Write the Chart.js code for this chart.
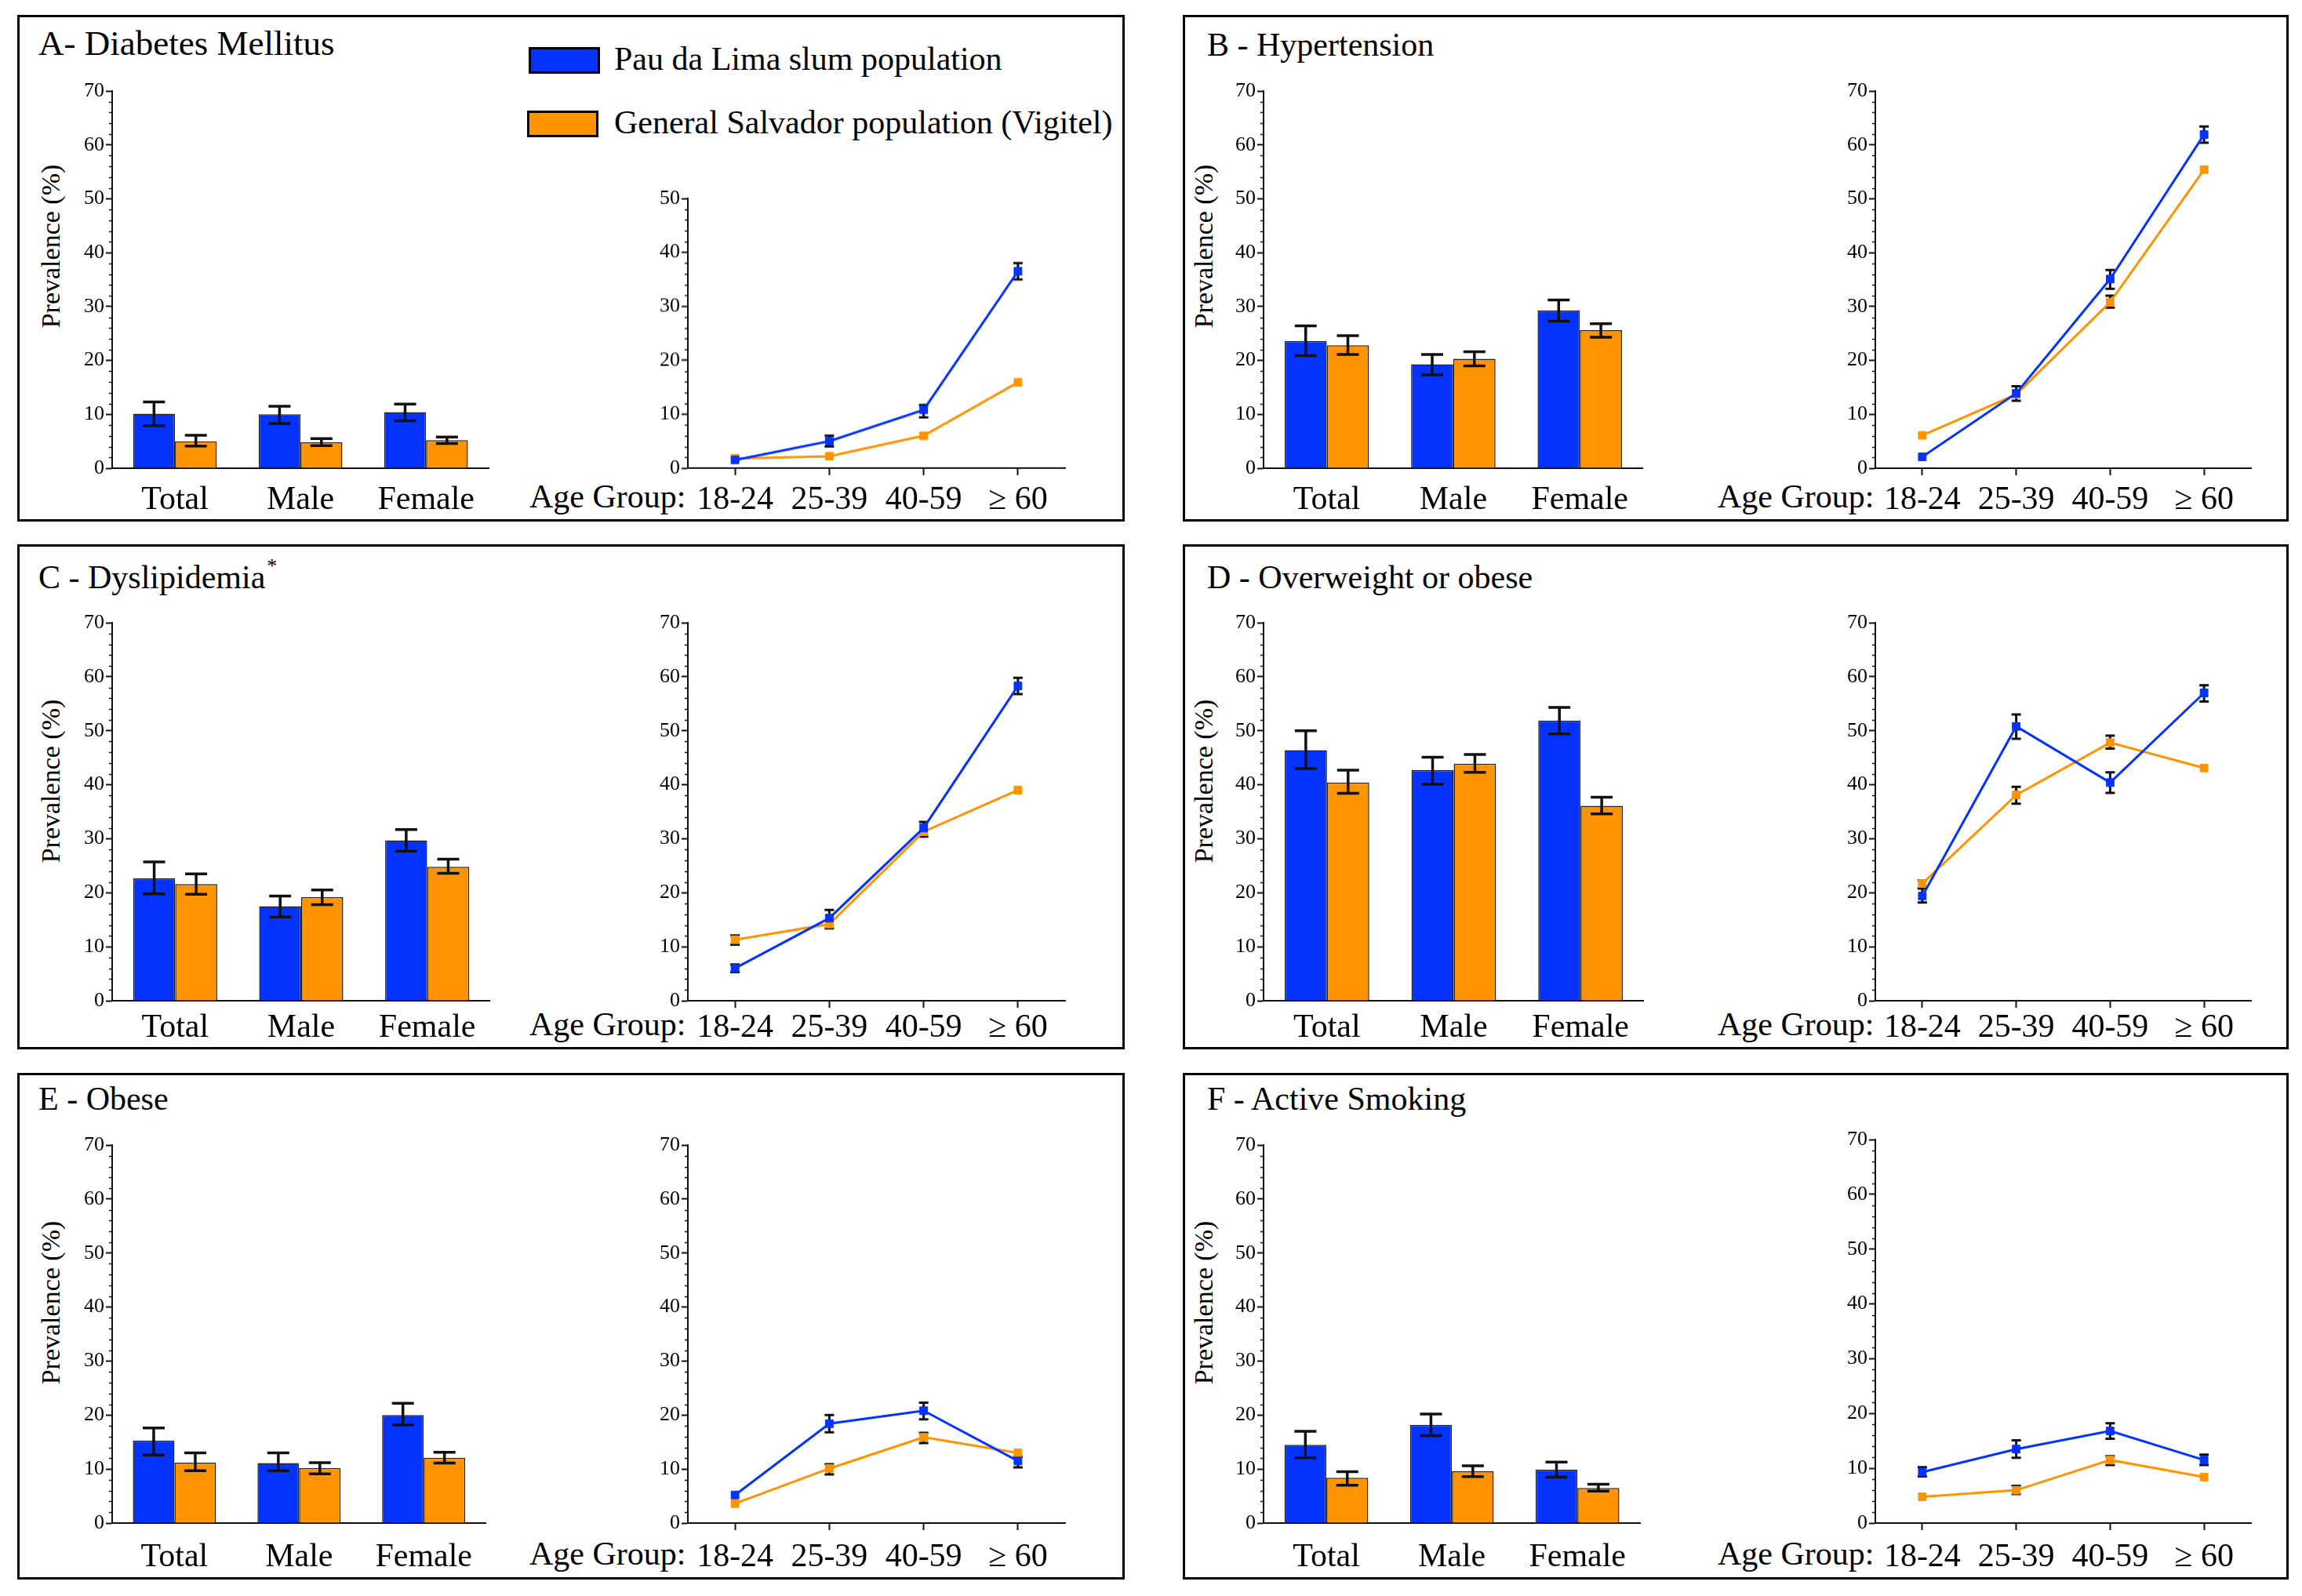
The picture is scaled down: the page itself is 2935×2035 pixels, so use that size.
<!DOCTYPE html>
<html>
<head>
<meta charset="utf-8">
<script src="https://cdn.jsdelivr.net/npm/chart.js@4.4.3/dist/chart.umd.min.js"></script>
<style>
html, body { margin: 0; padding: 0; background: #fff; }
#page { position: relative; width: 2935px; height: 2035px; overflow: hidden;
        font-family: "Liberation Serif", "Times New Roman", serif; color: #000; }
.frame { position: absolute; border: 3px solid #000; box-sizing: border-box; }
.txt { position: absolute; white-space: nowrap; font-size: 42px; line-height: 42px; }
.ytitle { position: absolute; white-space: nowrap; font-size: 34px; line-height: 34px;
          transform: translate(-50%, -50%) rotate(-90deg); }
.swatch { position: absolute; border: 3px solid #000; box-sizing: border-box; }
canvas { position: absolute; }
</style>
</head>
<body>
<div id="page"></div>
<script>
// ---- data ----
const sexGroups = ['Total', 'Male', 'Female'];
const ageGroups = ['18-24', '25-39', '40-59', '≥ 60'];
const seriesNames = ['Pau da Lima slum population', 'General Salvador population (Vigitel)'];

// A - Diabetes Mellitus
const dmSexSlum = [10.1, 10.0, 10.4];
const dmSexSlumCI = [[7.9, 12.3], [8.3, 11.5], [8.8, 11.9]];
const dmSexCity = [5.0, 4.8, 5.2];
const dmSexCityCI = [[4.1, 6.1], [4.2, 5.5], [4.6, 5.8]];
const dmAgeSlum = [1.5, 5.0, 10.8, 36.5];
const dmAgeSlumCI = [null, [4.0, 6.0], [9.4, 11.7], [35.0, 38.0]];
const dmAgeCity = [1.8, 2.2, 6.0, 15.9];
const dmAgeCityCI = [null, null, null, null];

// B - Hypertension
const htnSexSlum = [23.6, 19.3, 29.3];
const htnSexSlumCI = [[20.9, 26.4], [17.3, 21.1], [27.3, 31.2]];
const htnSexCity = [22.8, 20.3, 25.6];
const htnSexCityCI = [[21.1, 24.6], [19.0, 21.6], [24.3, 26.8]];
const htnAgeSlum = [2.1, 13.9, 35.1, 61.9];
const htnAgeSlumCI = [null, [12.5, 15.2], [33.3, 36.8], [60.4, 63.4]];
const htnAgeCity = [6.1, 13.7, 30.8, 55.4];
const htnAgeCityCI = [null, null, [29.8, 32.0], null];

// C - Dyslipidemia
const dlpSexSlum = [22.7, 17.5, 29.7];
const dlpSexSlumCI = [[19.8, 25.7], [15.5, 19.4], [27.7, 31.7]];
const dlpSexCity = [21.6, 19.2, 24.8];
const dlpSexCityCI = [[19.7, 23.5], [17.8, 20.5], [23.6, 26.2]];
const dlpAgeSlum = [6.0, 15.3, 32.0, 58.3];
const dlpAgeSlumCI = [[5.3, 6.7], [13.4, 16.8], [30.4, 33.1], [56.8, 59.8]];
const dlpAgeCity = [11.3, 14.2, 31.3, 39.0];
const dlpAgeCityCI = [[10.4, 12.1], null, null, null];

// D - Overweight or obese
const owSexSlum = [46.4, 42.7, 51.9];
const owSexSlumCI = [[43.0, 50.0], [40.1, 45.1], [49.4, 54.3]];
const owSexCity = [40.4, 43.9, 36.1];
const owSexCityCI = [[38.4, 42.7], [42.3, 45.6], [34.6, 37.7]];
const owAgeSlum = [19.4, 50.8, 40.4, 57.0];
const owAgeSlumCI = [[18.2, 20.8], [48.5, 53.0], [38.5, 42.3], [55.4, 58.4]];
const owAgeCity = [21.7, 38.1, 47.8, 43.1];
const owAgeCityCI = [[20.8, 22.3], [36.5, 39.6], [46.7, 49.1], null];

// E - Obese
const obSexSlum = [15.3, 11.1, 20.0];
const obSexSlumCI = [[12.6, 17.6], [9.7, 13.0], [18.2, 22.2]];
const obSexCity = [11.2, 10.2, 12.1];
const obSexCityCI = [[9.7, 13.0], [9.1, 11.2], [11.1, 13.1]];
const obAgeSlum = [5.2, 18.4, 20.8, 11.5];
const obAgeSlumCI = [null, [16.8, 20.0], [19.2, 22.3], [10.3, 12.3]];
const obAgeCity = [3.6, 10.1, 15.9, 13.0];
const obAgeCityCI = [null, [9.0, 10.9], [14.8, 16.7], null];

// F - Active Smoking
const smSexSlum = [14.5, 18.2, 9.9];
const smSexSlumCI = [[12.1, 17.0], [16.2, 20.2], [8.5, 11.3]];
const smSexCity = [8.4, 9.6, 6.5];
const smSexCityCI = [[7.0, 9.5], [8.6, 10.6], [5.9, 7.2]];
const smAgeSlum = [9.3, 13.5, 16.8, 11.5];
const smAgeSlumCI = [[8.5, 10.2], [11.9, 15.1], [15.4, 18.2], [10.6, 12.5]];
const smAgeCity = [4.8, 6.0, 11.5, 8.4];
const smAgeCityCI = [null, [5.3, 6.8], [10.6, 12.2], null];

// ---- layout ----
const BLUE = '#0433ff';
const ORANGE = '#ff9300';
const INK = '#111';
const FONT = "'Liberation Serif', 'Times New Roman', serif";

const COLS = [
    { frameX: 22, frameW: 1412, barAxis: 143, barEnd: 625, lineAxis: 877, lineEnd: 1366, ageX: 675, titleX: 49, yTitleX: 65 },
    { frameX: 1508, frameW: 1410, barAxis: 1611, barEnd: 2096, lineAxis: 2391, lineEnd: 2878, ageX: 2190, titleX: 1539, yTitleX: 1535 }
];
const ROWS = [
    { frameY: 19, frameH: 646, top: 116, zero: 597, labelBase: 647, titleBase: 71, yTitleY: 314 },
    { frameY: 694, frameH: 644, top: 794, zero: 1276, labelBase: 1320, titleBase: 750, yTitleY: 996 },
    { frameY: 1368, frameH: 646, top: 1460, zero: 1942, labelBase: 1995, titleBase: 1415, yTitleY: 1661 }
];

const panels = [
    { title: 'A- Diabetes Mellitus', titleSize: 45, col: 0, row: 0, lineMax: 50,
      sex: [dmSexSlum, dmSexSlumCI, dmSexCity, dmSexCityCI], age: [dmAgeSlum, dmAgeSlumCI, dmAgeCity, dmAgeCityCI] },
    { title: 'B - Hypertension', col: 1, row: 0, lineMax: 70,
      sex: [htnSexSlum, htnSexSlumCI, htnSexCity, htnSexCityCI], age: [htnAgeSlum, htnAgeSlumCI, htnAgeCity, htnAgeCityCI] },
    { title: 'C - Dyslipidemia', star: true, col: 0, row: 1, lineMax: 70,
      sex: [dlpSexSlum, dlpSexSlumCI, dlpSexCity, dlpSexCityCI], age: [dlpAgeSlum, dlpAgeSlumCI, dlpAgeCity, dlpAgeCityCI] },
    { title: 'D - Overweight or obese', col: 1, row: 1, lineMax: 70,
      sex: [owSexSlum, owSexSlumCI, owSexCity, owSexCityCI], age: [owAgeSlum, owAgeSlumCI, owAgeCity, owAgeCityCI] },
    { title: 'E - Obese', col: 0, row: 2, lineMax: 70,
      sex: [obSexSlum, obSexSlumCI, obSexCity, obSexCityCI], age: [obAgeSlum, obAgeSlumCI, obAgeCity, obAgeCityCI] },
    { title: 'F - Active Smoking', col: 1, row: 2, lineMax: 70, lineTop: 1453,
      sex: [smSexSlum, smSexSlumCI, smSexCity, smSexCityCI], age: [smAgeSlum, smAgeSlumCI, smAgeCity, smAgeCityCI] }
];

const PAD_TOP = 24;   // room above the chart area for the top tick label
const YW = 70;        // fixed y-axis box width
const XH = 90;        // fixed x-axis box height

Chart.defaults.font.family = FONT;
Chart.defaults.color = '#000';

// error bars drawn through the y scale
function drawErrorBars(chart, opts) {
    const ctx = chart.ctx;
    const y = chart.scales.y;
    chart.data.datasets.forEach((ds, i) => {
        const meta = chart.getDatasetMeta(i);
        (ds.ci || []).forEach((ci, j) => {
            if (!ci) return;
            const x = meta.data[j].x;
            const lo = y.getPixelForValue(ci[0]);
            const hi = y.getPixelForValue(ci[1]);
            const h = opts.cap / 2;
            ctx.save();
            ctx.strokeStyle = INK;
            ctx.lineWidth = opts.width;
            ctx.beginPath();
            ctx.moveTo(x, lo); ctx.lineTo(x, hi);
            ctx.moveTo(x - h, lo); ctx.lineTo(x + h, lo);
            ctx.moveTo(x - h, hi); ctx.lineTo(x + h, hi);
            ctx.stroke();
            ctx.restore();
        });
    });
}
const errorBars = {
    id: 'errorBars',
    beforeDatasetsDraw(chart, args, opts) { if (opts.under) drawErrorBars(chart, opts); },
    afterDatasetsDraw(chart, args, opts) { if (!opts.under) drawErrorBars(chart, opts); }
};

// small ticks every 2 units between the labelled ones
const minorTicks = {
    id: 'minorTicks',
    afterDraw(chart) {
        const s = chart.scales.y;
        const ctx = chart.ctx;
        ctx.save();
        ctx.strokeStyle = INK;
        ctx.lineWidth = 1.5;
        for (let v = s.min; v <= s.max; v += 2) {
            if (v % 10 === 0) continue;
            const py = Math.round(s.getPixelForValue(v)) + 0.5;
            ctx.beginPath();
            ctx.moveTo(s.right - 4, py);
            ctx.lineTo(s.right, py);
            ctx.stroke();
        }
        ctx.restore();
    }
};

function yAxis(max) {
    return {
        min: 0, max: max,
        ticks: { stepSize: 10, color: '#000', padding: 2, font: { family: FONT, size: 26 } },
        grid: { drawOnChartArea: false, drawTicks: true, tickLength: 8, tickWidth: 2, tickColor: INK },
        border: { display: true, color: INK, width: 2 },
        afterFit: s => { s.width = YW; }
    };
}

function xAxis(withTicks, padding) {
    return {
        offset: true,
        ticks: { color: '#000', padding: padding, maxRotation: 0, autoSkip: false,
                 font: { family: FONT, size: 42, lineHeight: 1 } },
        grid: withTicks
            ? { display: true, offset: false, drawOnChartArea: false, drawTicks: true, tickLength: 9, tickWidth: 2, tickColor: INK }
            : { display: false, drawTicks: false },
        border: { display: true, color: INK, width: 2 },
        afterFit: s => { s.height = XH; }
    };
}

function addCanvas(page, axisX, endX, topY, zeroY) {
    const c = document.createElement('canvas');
    const w = YW + (endX - axisX);
    const h = PAD_TOP + (zeroY - topY) + XH;
    c.width = w; c.height = h;
    c.style.left = (axisX - YW) + 'px';
    c.style.top = (topY - PAD_TOP) + 'px';
    c.style.width = w + 'px';
    c.style.height = h + 'px';
    page.appendChild(c);
    return c;
}

function addText(page, cls, text, left, top) {
    const d = document.createElement('div');
    d.className = cls;
    d.textContent = text;
    d.style.left = left + 'px';
    d.style.top = top + 'px';
    page.appendChild(d);
    return d;
}

const baseOptions = {
    responsive: false,
    animation: false,
    events: [],
    layout: { padding: { top: PAD_TOP, left: 0, right: 0, bottom: 0 } },
};

const page = document.getElementById('page');

panels.forEach(p => {
    const col = COLS[p.col];
    const row = ROWS[p.row];

    const fr = document.createElement('div');
    fr.className = 'frame';
    Object.assign(fr.style, { left: col.frameX + 'px', top: row.frameY + 'px', width: col.frameW + 'px', height: row.frameH + 'px' });
    page.appendChild(fr);

    const ts = p.titleSize || 42;
    const t = addText(page, 'txt', p.title, col.titleX, row.titleBase - Math.round(ts * 0.84));
    t.style.fontSize = ts + 'px';
    t.style.lineHeight = ts + 'px';
    if (p.star) {
        const s = document.createElement('span');
        s.textContent = '*';
        Object.assign(s.style, { fontSize: '26px', position: 'relative', top: '-20px', marginLeft: '2px' });
        t.appendChild(s);
    }
    addText(page, 'ytitle', 'Prevalence (%)', col.yTitleX, row.yTitleY);
    addText(page, 'txt', 'Age Group:', col.ageX, row.labelBase - 35);

    // label padding so the label baseline lands where it is in the figure
    const labelPad = (row.labelBase - row.zero) - 14 - 21 + 5;

    const barCanvas = addCanvas(page, col.barAxis, col.barEnd, row.top, row.zero);
    new Chart(barCanvas, {
        type: 'bar',
        data: {
            labels: sexGroups,
            datasets: [
                { label: seriesNames[0], data: p.sex[0], ci: p.sex[1], backgroundColor: BLUE, borderColor: '#222', borderWidth: 1.5,
                  categoryPercentage: 0.667, barPercentage: 1.0 },
                { label: seriesNames[1], data: p.sex[2], ci: p.sex[3], backgroundColor: ORANGE, borderColor: '#222', borderWidth: 1.5,
                  categoryPercentage: 0.667, barPercentage: 1.0 }
            ]
        },
        options: Object.assign({}, baseOptions, {
            scales: { x: xAxis(false, labelPad), y: yAxis(70) },
            plugins: { legend: { display: false }, tooltip: { enabled: false },
                       errorBars: { under: false, width: 3.5, cap: 28 } }
        }),
        plugins: [errorBars, minorTicks]
    });

    const zero = row.zero;
    const unit = (row.zero - row.top) / 70;
    const lineTop = p.lineTop || (zero - p.lineMax * unit);
    const lineCanvas = addCanvas(page, col.lineAxis, col.lineEnd, lineTop, zero);
    new Chart(lineCanvas, {
        type: 'line',
        data: {
            labels: ageGroups,
            datasets: [
                { label: seriesNames[0], data: p.age[0], ci: p.age[1], borderColor: BLUE, backgroundColor: BLUE,
                  borderWidth: 3, tension: 0, pointStyle: 'rect', pointRadius: 7, pointBorderWidth: 1 },
                { label: seriesNames[1], data: p.age[2], ci: p.age[3], borderColor: ORANGE, backgroundColor: ORANGE,
                  borderWidth: 3, tension: 0, pointStyle: 'rect', pointRadius: 7, pointBorderWidth: 1 }
            ]
        },
        options: Object.assign({}, baseOptions, {
            scales: { x: xAxis(true, labelPad - 9), y: yAxis(p.lineMax) },
            plugins: { legend: { display: false }, tooltip: { enabled: false },
                       errorBars: { under: true, width: 3, cap: 12 } }
        }),
        plugins: [errorBars, minorTicks]
    });
});

// legend (panel A)
[[BLUE, 674, 60, 54], [ORANGE, 672, 141, 135]].forEach((it, i) => {
    const sw = document.createElement('div');
    sw.className = 'swatch';
    Object.assign(sw.style, { left: it[1] + 'px', top: it[2] + 'px', width: '91px', height: '34px', background: it[0] });
    page.appendChild(sw);
    addText(page, 'txt', seriesNames[i], 783, it[3]);
});
</script>
</body>
</html>
